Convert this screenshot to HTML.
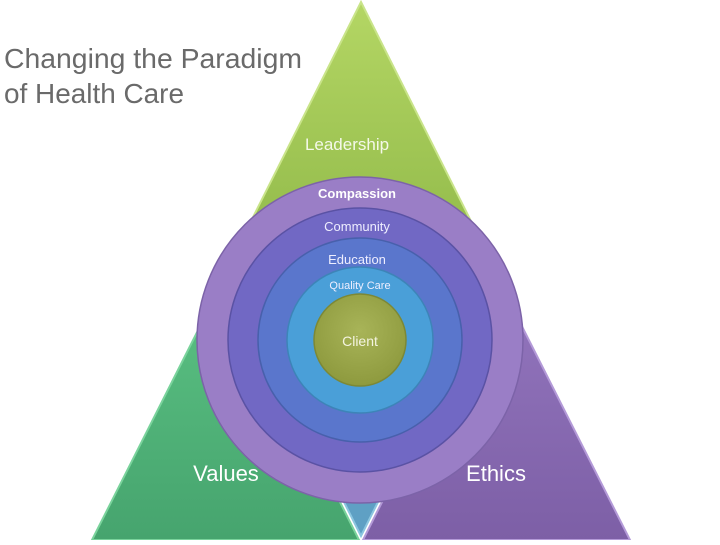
<!DOCTYPE html>
<html><head><meta charset="utf-8"><style>
body{margin:0;width:720px;height:540px;background:#fff;overflow:hidden}
</style></head><body>
<svg width="720" height="540" xmlns="http://www.w3.org/2000/svg" font-family="Liberation Sans, sans-serif">
<defs>
<linearGradient id="gt" x1="0" y1="0" x2="0" y2="1"><stop offset="0" stop-color="#b4d664"/><stop offset="1" stop-color="#8fb848"/></linearGradient>
<linearGradient id="gl" x1="0" y1="0" x2="0" y2="1"><stop offset="0" stop-color="#5cc384"/><stop offset="1" stop-color="#46a46e"/></linearGradient>
<linearGradient id="gr" x1="0" y1="0" x2="0" y2="1"><stop offset="0" stop-color="#9477bf"/><stop offset="1" stop-color="#7d5fa6"/></linearGradient>
<radialGradient id="cl" cx="0.5" cy="0.4" r="0.6"><stop offset="0" stop-color="#a8b458"/><stop offset="1" stop-color="#8e9a3e"/></radialGradient>
</defs>
<text x="4" y="68" font-size="28" fill="#6a6a6a" textLength="298" lengthAdjust="spacingAndGlyphs">Changing the Paradigm</text>
<text x="4" y="103" font-size="28" fill="#6a6a6a" textLength="180" lengthAdjust="spacingAndGlyphs">of Health Care</text>
<polygon points="361,2 496,271 226,271" fill="url(#gt)" stroke="#c9e48a" stroke-width="2"/>
<polygon points="226,275 359,540 92,540" fill="url(#gl)" stroke="#7ad39c" stroke-width="2"/>
<polygon points="496,275 630,540 363,540" fill="url(#gr)" stroke="#b49ad8" stroke-width="2"/>
<polygon points="229,272 493,272 361,536" fill="#5fa0c4" stroke="#8cc6e0" stroke-width="2"/>
<text x="347" y="150" font-size="17" fill="#f4f8e8" text-anchor="middle">Leadership</text>
<text x="226" y="481" font-size="22" fill="#fff" text-anchor="middle">Values</text>
<text x="496" y="481" font-size="22" fill="#fff" text-anchor="middle">Ethics</text>
<circle cx="360" cy="340" r="163" fill="#9a7ec6" stroke="#7c63a8" stroke-width="1.5"/>
<circle cx="360" cy="340" r="132" fill="#7168c4" stroke="#5a52a4" stroke-width="1.5"/>
<circle cx="360" cy="340" r="102" fill="#5a76cc" stroke="#4860ac" stroke-width="1.5"/>
<circle cx="360" cy="340" r="73" fill="#4a9fd8" stroke="#3d84b8" stroke-width="1.5"/>
<circle cx="360" cy="340" r="46" fill="url(#cl)" stroke="#7c8836" stroke-width="1.5"/>
<text x="357" y="198" font-size="13" fill="#fff" font-weight="bold" text-anchor="middle">Compassion</text>
<text x="357" y="231" font-size="13" fill="#eef" text-anchor="middle">Community</text>
<text x="357" y="264" font-size="13" fill="#eef" text-anchor="middle">Education</text>
<text x="360" y="289" font-size="11" fill="#eef" text-anchor="middle">Quality Care</text>
<text x="360" y="346" font-size="14" fill="#f4f4e0" text-anchor="middle">Client</text>
</svg>
</body></html>
